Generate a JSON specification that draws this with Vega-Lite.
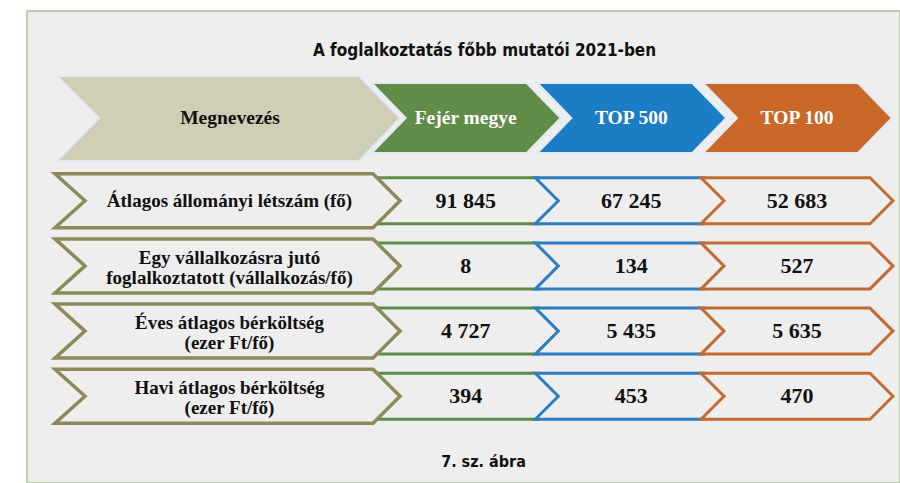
{
  "$schema": "https://vega.github.io/schema/vega-lite/v6.json",
  "width": 873,
  "height": 472,
  "autosize": "none",
  "padding": {"left": 27, "top": 11, "right": 0, "bottom": 0},
  "background": "white",
  "config": {
    "view": {"fill": "#eeeeee", "stroke": "#a9c495", "strokeWidth": 1.5},
    "locale": {"number": {"decimal": ",", "thousands": " ", "grouping": [3], "currency": ["", " Ft"]}}
  },
  "title": {
    "text": "A foglalkoztatás főbb mutatói 2021-ben",
    "anchor": "middle",
    "dx": 21,
    "offset": -49,
    "font": "Liberation Sans Narrow, DejaVu Sans Condensed, sans-serif",
    "fontSize": 17,
    "fontWeight": "bold",
    "color": "#111111"
  },
  "datasets": {
    "header": [
      {"col": "Megnevezés"},
      {"col": "Fejér megye"},
      {"col": "TOP 500"},
      {"col": "TOP 100"}
    ],
    "labels": [
      {"indicator": "Átlagos állományi létszám (fő)", "label": "Átlagos állományi létszám (fő)"},
      {"indicator": "Egy vállalkozásra jutó foglalkoztatott (vállalkozás/fő)", "label": "Egy vállalkozásra jutó\nfoglalkoztatott (vállalkozás/fő)"},
      {"indicator": "Éves átlagos bérköltség (ezer Ft/fő)", "label": "Éves átlagos bérköltség\n(ezer Ft/fő)"},
      {"indicator": "Havi átlagos bérköltség (ezer Ft/fő)", "label": "Havi átlagos bérköltség\n(ezer Ft/fő)"}
    ],
    "values": [
      {"indicator": "Átlagos állományi létszám (fő)", "col": "Fejér megye", "value": 91845},
      {"indicator": "Átlagos állományi létszám (fő)", "col": "TOP 500", "value": 67245},
      {"indicator": "Átlagos állományi létszám (fő)", "col": "TOP 100", "value": 52683},
      {"indicator": "Egy vállalkozásra jutó foglalkoztatott (vállalkozás/fő)", "col": "Fejér megye", "value": 8},
      {"indicator": "Egy vállalkozásra jutó foglalkoztatott (vállalkozás/fő)", "col": "TOP 500", "value": 134},
      {"indicator": "Egy vállalkozásra jutó foglalkoztatott (vállalkozás/fő)", "col": "TOP 100", "value": 527},
      {"indicator": "Éves átlagos bérköltség (ezer Ft/fő)", "col": "Fejér megye", "value": 4727},
      {"indicator": "Éves átlagos bérköltség (ezer Ft/fő)", "col": "TOP 500", "value": 5435},
      {"indicator": "Éves átlagos bérköltség (ezer Ft/fő)", "col": "TOP 100", "value": 5635},
      {"indicator": "Havi átlagos bérköltség (ezer Ft/fő)", "col": "Fejér megye", "value": 394},
      {"indicator": "Havi átlagos bérköltség (ezer Ft/fő)", "col": "TOP 500", "value": 453},
      {"indicator": "Havi átlagos bérköltség (ezer Ft/fő)", "col": "TOP 100", "value": 470}
    ],
    "caption": [
      {"indicator": "7. sz. ábra", "text": "7. sz. ábra"}
    ]
  },
  "layer": [
    {
      "data": {"name": "values"},
      "mark": {"type": "point", "shape": "M-96,-23L73,-23L96,0L73,23L-96,23L-73,0Z", "size": 4, "filled": true, "fill": "#eeeeee", "strokeWidth": 3, "opacity": 1, "strokeJoin": "miter"},
      "encoding": {
        "x": {"field": "col", "type": "nominal", "scale": {"type": "point", "domain": ["Megnevezés", "Fejér megye", "TOP 500", "TOP 100"], "range": [273, 770], "padding": 0}, "axis": null},
        "y": {"field": "indicator", "type": "nominal", "scale": {"type": "point", "domain": ["Megnevezés", "Átlagos állományi létszám (fő)", "Egy vállalkozásra jutó foglalkoztatott (vállalkozás/fő)", "Éves átlagos bérköltség (ezer Ft/fő)", "Havi átlagos bérköltség (ezer Ft/fő)", "7. sz. ábra"], "range": [124.5, 450.5], "padding": 0}, "axis": null},
        "stroke": {"field": "col", "type": "nominal", "scale": {"domain": ["Fejér megye", "TOP 500", "TOP 100"], "range": ["#5f8c48", "#2b7fc2", "#c26b34"]}, "legend": null}
      }
    },
    {
      "data": {"name": "labels"},
      "mark": {"type": "point", "shape": "M-245,-27L73,-27L100,0L73,27L-245,27L-215,0Z", "size": 4, "filled": true, "fill": "#eeeeee", "stroke": "#8c8a58", "strokeWidth": 3.5, "opacity": 1, "strokeJoin": "miter"},
      "encoding": {
        "x": {"datum": "Megnevezés", "type": "nominal"},
        "y": {"field": "indicator", "type": "nominal"}
      }
    },
    {
      "data": {"name": "header"},
      "mark": {"type": "point", "size": 4, "filled": true, "stroke": "#e2eaf4", "strokeWidth": 2, "opacity": 1, "strokeJoin": "miter"},
      "encoding": {
        "x": {"field": "col", "type": "nominal"},
        "y": {"datum": "Megnevezés", "type": "nominal"},
        "shape": {"field": "col", "type": "nominal", "scale": {"domain": ["Megnevezés", "Fejér megye", "TOP 500", "TOP 100"], "range": ["M-243,-59.5L59,-59.5L100,-17.5L59,25.5L-243,25.5L-201,-17.5Z", "M-94,-52.5L61,-52.5L95,-17.5L61,17.5L-94,17.5L-60,-17.5Z", "M-94,-52.5L61,-52.5L95,-17.5L61,17.5L-94,17.5L-60,-17.5Z", "M-94,-52.5L61,-52.5L95,-17.5L61,17.5L-94,17.5L-60,-17.5Z"]}, "legend": null},
        "fill": {"field": "col", "type": "nominal", "scale": {"domain": ["Megnevezés", "Fejér megye", "TOP 500", "TOP 100"], "range": ["#d0ceb4", "#618c47", "#1c7cc5", "#c96828"]}, "legend": null}
      }
    },
    {
      "data": {"name": "header"},
      "transform": [{"filter": "datum.col === 'Megnevezés'"}],
      "mark": {"type": "text", "font": "Liberation Serif", "fontWeight": "bold", "fontSize": 19.5, "dx": -70, "dy": -17.5, "baseline": "middle", "align": "center", "color": "#111111"},
      "encoding": {
        "x": {"field": "col", "type": "nominal"},
        "y": {"datum": "Megnevezés", "type": "nominal"},
        "text": {"field": "col"}
      }
    },
    {
      "data": {"name": "header"},
      "transform": [{"filter": "datum.col !== 'Megnevezés'"}],
      "mark": {"type": "text", "font": "Liberation Serif", "fontWeight": "bold", "fontSize": 19.5, "dy": -17.5, "baseline": "middle", "align": "center", "color": "#ffffff"},
      "encoding": {
        "x": {"field": "col", "type": "nominal"},
        "y": {"datum": "Megnevezés", "type": "nominal"},
        "text": {"field": "col"}
      }
    },
    {
      "data": {"name": "labels"},
      "transform": [{"filter": "indexof(datum.label, '\\n') < 0"}],
      "mark": {"type": "text", "font": "Liberation Serif", "fontWeight": "bold", "fontSize": 19, "dx": -70.5, "baseline": "middle", "align": "center", "color": "#111111"},
      "encoding": {
        "x": {"datum": "Megnevezés", "type": "nominal"},
        "y": {"field": "indicator", "type": "nominal"},
        "text": {"field": "label"}
      }
    },
    {
      "data": {"name": "labels"},
      "transform": [{"filter": "indexof(datum.label, '\\n') >= 0"}],
      "mark": {"type": "text", "font": "Liberation Serif", "fontWeight": "bold", "fontSize": 19, "lineHeight": 20, "lineBreak": "\n", "dx": -70.5, "dy": -8, "baseline": "middle", "align": "center", "color": "#111111"},
      "encoding": {
        "x": {"datum": "Megnevezés", "type": "nominal"},
        "y": {"field": "indicator", "type": "nominal"},
        "text": {"field": "label"}
      }
    },
    {
      "data": {"name": "values"},
      "mark": {"type": "text", "font": "Liberation Serif", "fontWeight": "bold", "fontSize": 22, "baseline": "middle", "align": "center", "color": "#111111"},
      "encoding": {
        "x": {"field": "col", "type": "nominal"},
        "y": {"field": "indicator", "type": "nominal"},
        "text": {"field": "value", "type": "quantitative", "format": ",d"}
      }
    },
    {
      "data": {"name": "caption"},
      "mark": {"type": "text", "font": "Liberation Sans Narrow, DejaVu Sans Condensed, sans-serif", "fontWeight": "bold", "fontSize": 16, "dx": 20, "baseline": "middle", "align": "center", "color": "#111111"},
      "encoding": {
        "y": {"field": "indicator", "type": "nominal"},
        "text": {"field": "text"}
      }
    }
  ]
}
